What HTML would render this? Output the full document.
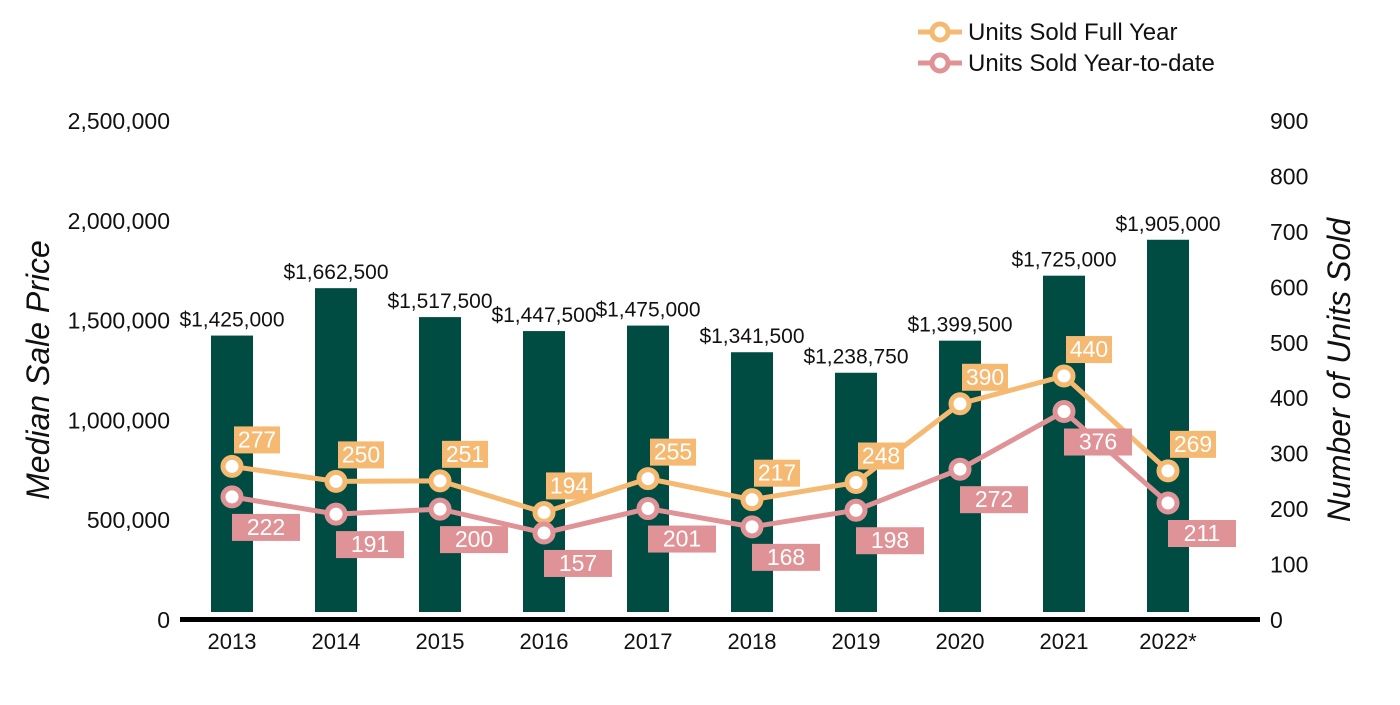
<!DOCTYPE html>
<html><head><meta charset="utf-8"><style>
body{margin:0;background:#fff;font-family:"Liberation Sans",Arial,sans-serif}
svg text{font-family:"Liberation Sans",Arial,sans-serif}
</style></head><body>
<svg id="chart" width="1400" height="700" xmlns="http://www.w3.org/2000/svg"></svg>
<script>
const years=["2013","2014","2015","2016","2017","2018","2019","2020","2021","2022*"];
const prices=[1425000,1662500,1517500,1447500,1475000,1341500,1238750,1399500,1725000,1905000];
const fullYear=[277,250,251,194,255,217,248,390,440,269];
const ytd=[222,191,200,157,201,168,198,272,376,211];
const leftTicks=[0,500000,1000000,1500000,2000000,2500000];
const rightTicks=[0,100,200,300,400,500,600,700,800,900];
const NS="http://www.w3.org/2000/svg";
const svg=document.getElementById('chart');
const y0=620,yTop=121;
const yL=v=>y0-(v/2500000)*(y0-yTop);
const yR=v=>y0-(v/900)*(y0-yTop);
const xC=i=>232+i*104;
const ORANGE="#f5b971",PINK="#e09397",GREEN="#004b42";
function el(t,a,txt){const e=document.createElementNS(NS,t);for(const k in a)e.setAttribute(k,a[k]);if(txt!==undefined)e.textContent=txt;svg.appendChild(e);return e;}
const fmt=v=>v.toLocaleString('en-US');
leftTicks.forEach(v=>{const t=el('text',{x:170,y:yL(v)+8,'text-anchor':'end','font-size':23,fill:'#111'},fmt(v));

});
rightTicks.forEach(v=>{const t=el('text',{x:1270,y:yR(v)+8,'font-size':23,fill:'#111'},String(v));

});
let t=el('text',{x:0,y:0,'font-size':32,'font-style':'italic',fill:'#111','text-anchor':'middle',transform:'translate(49,370) rotate(-90)'},'Median Sale Price');


t=el('text',{x:0,y:0,'font-size':32,'font-style':'italic',fill:'#111','text-anchor':'middle',transform:'translate(1350,370) rotate(-90)'},'Number of Units Sold');


prices.forEach((v,i)=>{
 const b=el('rect',{x:xC(i)-21,y:yL(v),width:42,height:612-yL(v),fill:GREEN});
 
 
 const l=el('text',{x:xC(i),y:yL(v)-9,'text-anchor':'middle','font-size':21,fill:'#111'},'$'+fmt(v));
 
 
});
const ax=el('rect',{x:180,y:617,width:1080,height:5,fill:'#000'});


years.forEach((y,i)=>{const l=el('text',{x:xC(i),y:649,'text-anchor':'middle','font-size':22,fill:'#111'},y);

});
function series(data,color,name,dx,dy,w){
 const p=el('polyline',{points:data.map((v,i)=>xC(i)+','+yR(v)).join(' '),fill:'none',stroke:color,'stroke-width':5});
 
 
 data.forEach((v,i)=>{
  const c=el('circle',{cx:xC(i),cy:yR(v),r:9,fill:'#fff',stroke:color,'stroke-width':5});
  
  
 });
 data.forEach((v,i)=>{
  const cx=xC(i)+dx,cy=yR(v)+dy;
  const r=el('rect',{x:cx-w/2,y:cy-13,width:w,height:27,fill:color});
  
  
  const tx=el('text',{x:cx,y:cy+8,'text-anchor':'middle','font-size':23,fill:'#fff'},String(v));
  
  
 });
}
series(fullYear,ORANGE,'full-year',25,-27,46);
series(ytd,PINK,'ytd',34,30,68);
[[ORANGE,'Units Sold Full Year',32],[PINK,'Units Sold Year-to-date',63]].forEach(([c,txt,y])=>{
 const g=el('line',{x1:918,y1:y,x2:962,y2:y,stroke:c,'stroke-width':5});
 
 
 const m=el('circle',{cx:940,cy:y,r:8,fill:'#fff',stroke:c,'stroke-width':5});
 
 
 const l=el('text',{x:968,y:y+8,'font-size':24,fill:'#111'},txt);
 
 
});
</script>
</body></html>
